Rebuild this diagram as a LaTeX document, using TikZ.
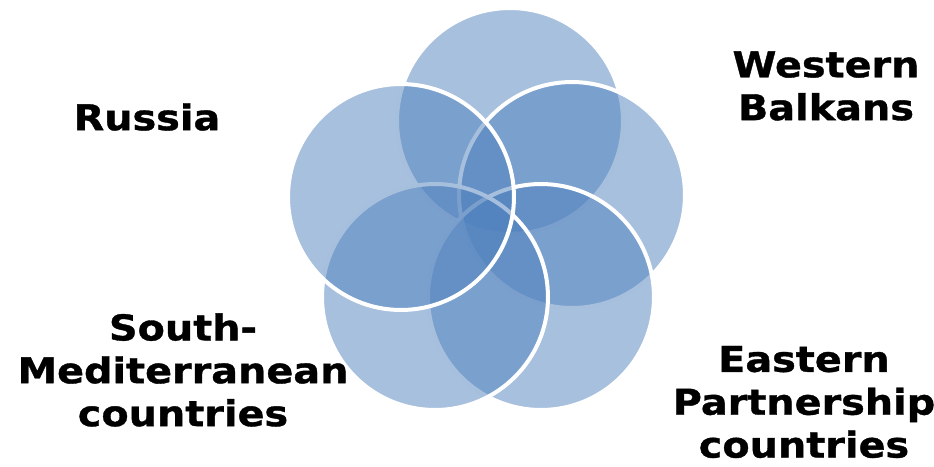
\documentclass[tikz,border=0pt]{standalone}
\usepackage{fontspec}
\newfontfamily\labelfont{DejaVu Sans}[FakeStretch=1.12,FakeBold=1]
\usepackage{tikz}
\definecolor{vennblue}{HTML}{4F81BD}

\begin{document}
\begin{tikzpicture}[x=0.02cm,y=-0.02cm]

\tikzstyle{petal}=[circle,inner sep=0pt,minimum size=4.52cm,fill=vennblue,fill opacity=0.5,draw=white,draw opacity=1,line width=0.08cm]
\tikzstyle{region}=[align=center,font=\labelfont\bfseries\fontsize{20.2}{24.4}\selectfont]

\useasboundingbox (0,0) rectangle (934,467);

\node[petal] (wb)  at (510,121) {} ;
\node[petal] (ep1) at (572,195) {} ;
\node[petal] (ep2) at (541,297) {} ;
\node[petal] (sm)  at (435,297) {} ;
\node[petal] (ru)  at (401,197) {} ;

\node[region] (Russia)  at (147,117) {Russia} ;
\node[region] (Balkans) at (826,86)  {Western\\Balkans} ;
\node[region] (South)   at (183,370) {South-\\Mediterranean\\countries} ;
\node[region] (East)    at (804,402) {Eastern\\Partnership\\countries} ;

\end{tikzpicture}
\end{document}
